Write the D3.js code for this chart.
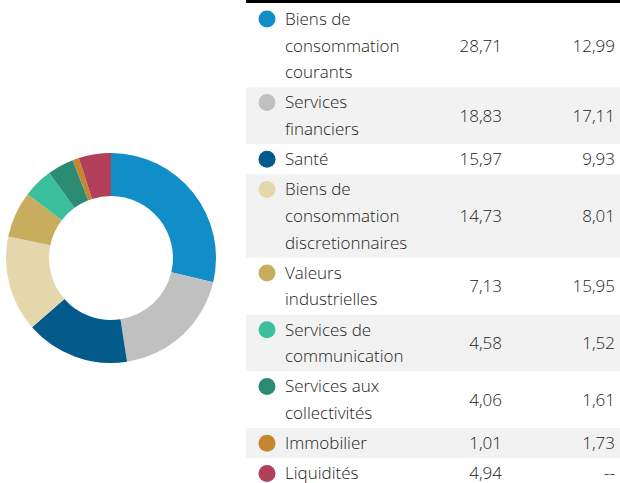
<!DOCTYPE html>
<html>
<head>
<meta charset="utf-8">
<script src="https://cdn.jsdelivr.net/npm/d3@7"></script>
<style>
  html, body { margin: 0; padding: 0; background: #fff; }
  svg { display: block; }
  text { font-family: "Open Sans", sans-serif; font-weight: 300; fill: #222; }
</style>
</head>
<body>
<svg id="chart" width="620" height="483"></svg>
<script>
// Sector allocation (%) — fund vs. benchmark
const sectors = [
  ["Biens de", "consommation", "courants"],
  ["Services", "financiers"],
  ["Santé"],
  ["Biens de", "consommation", "discretionnaires"],
  ["Valeurs", "industrielles"],
  ["Services de", "communication"],
  ["Services aux", "collectivités"],
  ["Immobilier"],
  ["Liquidités"]
];
const fundWeights = [28.71, 18.83, 15.97, 14.73, 7.13, 4.58, 4.06, 1.01, 4.94];
const benchWeights = [12.99, 17.11, 9.93, 8.01, 15.95, 1.52, 1.61, 1.73, null];
const sectorColors = ["#118dc8", "#c0c0c0", "#035b8c", "#e4d7ac", "#c9ad5f", "#3bbf9d", "#2b8b73", "#c5862f", "#b2405b"];

const svg = d3.select("#chart");
const fmt = v => v == null ? "--" : d3.format(".2f")(v).replace(".", ",");

// Donut
const pie = d3.pie().sort(null).value(d => d);
const arc = d3.arc().innerRadius(62).outerRadius(105);
const donut = svg.append("g").attr("transform", "translate(111,258)");
donut.selectAll("path")
  .data(pie(fundWeights))
  .join("path")
  .attr("d", arc)
  .attr("fill", (d, i) => sectorColors[i]);

// Legend table
const lineH = 26.6, pad = 3.6, x0 = 246, x1 = 620;
let y = 4;
const rows = sectors.map((lines, i) => {
  const h = lines.length * lineH + pad;
  const r = { i, lines, y, h };
  y += h;
  return r;
});

const table = svg.append("g");
const row = table.selectAll("g.row").data(rows).join("g").attr("class", "row")
  .attr("transform", d => `translate(0,${d.y})`);

row.append("rect")
  .attr("x", x0).attr("width", x1 - x0)
  .attr("height", d => d.h)
  .attr("fill", d => d.i % 2 ? "#f2f2f2" : "#fff");

row.append("circle")
  .attr("cx", 267)
  .attr("cy", pad / 2 + lineH / 2)
  .attr("r", 8.5)
  .attr("fill", d => sectorColors[d.i]);

row.each(function(d) {
  const g = d3.select(this);
  d.lines.forEach((t, k) => {
    g.append("text")
      .attr("x", 285)
      .attr("y", pad / 2 + lineH / 2 + k * lineH)
      .attr("dy", "0.35em")
      .attr("font-size", 17)
      .text(t);
  });
  g.append("text")
    .attr("x", 502).attr("y", d.h / 2).attr("dy", "0.35em")
    .attr("text-anchor", "end").attr("font-size", 17)
    .text(fmt(fundWeights[d.i]));
  g.append("text")
    .attr("x", 615).attr("y", d.h / 2).attr("dy", "0.35em")
    .attr("text-anchor", "end").attr("font-size", 17)
    .text(fmt(benchWeights[d.i]));
});

// Top rule
svg.append("rect").attr("x", x0).attr("y", 0).attr("width", x1 - x0).attr("height", 3).attr("fill", "#000");
</script>
</body>
</html>
